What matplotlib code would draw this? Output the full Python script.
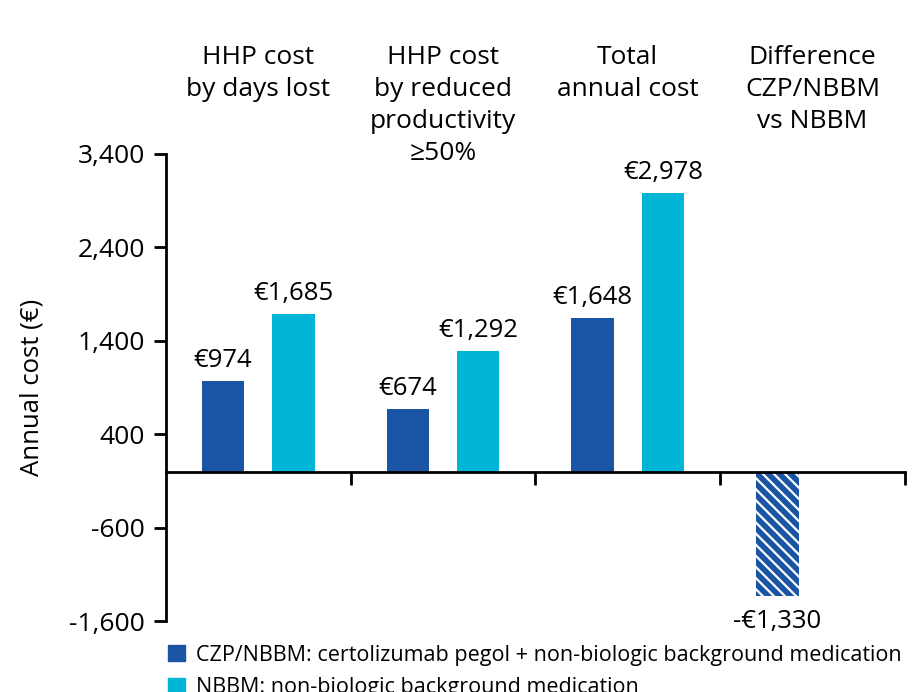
import matplotlib
matplotlib.use("Agg")
import matplotlib.pyplot as plt
from matplotlib.patches import Patch
from matplotlib import transforms

plt.rcParams['font.family'] = ['Open Sans', 'DejaVu Sans']
plt.rcParams['hatch.linewidth'] = 1.6

# donnees
categories = ["HHP cost\nby days lost",
              "HHP cost\nby reduced\nproductivity\n\u226550%",
              "Total\nannual cost",
              "Difference\nCZP/NBBM\nvs NBBM"]
czp = [974, 674, 1648]
nbbm = [1685, 1292, 2978]
difference = -1330
yticks = [-1600, -600, 400, 1400, 2400, 3400]

dark = '#1a55a5'
cyan = '#00b5d6'

fig = plt.figure(figsize=(9.16, 6.92), dpi=100)
ax = fig.add_axes([0.181, 0.1026, 0.807, 0.6749])

off = 0.19
w = 0.23
centres = [0.5, 1.5, 2.5, 3.5]
for i in range(3):
    ax.bar(centres[i] - off, czp[i], w, color=dark, zorder=2)
    ax.bar(centres[i] + off, nbbm[i], w, color=cyan, zorder=2)
    ax.text(centres[i] - off, czp[i] + 85, "\u20ac{:,}".format(czp[i]),
            ha='center', va='bottom', fontsize=18.5)
    ax.text(centres[i] + off, nbbm[i] + 85, "\u20ac{:,}".format(nbbm[i]),
            ha='center', va='bottom', fontsize=18.5)

ax.bar(centres[3] - off, difference, w, color=dark, edgecolor='white',
       linewidth=0, hatch='\\\\\\', zorder=2)
ax.text(centres[3] - off, difference - 145, "-\u20ac{:,}".format(-difference),
        ha='center', va='top', fontsize=18.5)

ax.set_xlim(0, 4)
ax.set_ylim(-1600, 3400)
ax.set_yticks(yticks)
ax.set_yticklabels(["{:,}".format(v) for v in yticks], fontsize=19)
ax.set_xticks([1, 2, 3, 4])
ax.set_xticklabels([])
ax.spines['top'].set_visible(False)
ax.spines['right'].set_visible(False)
ax.spines['bottom'].set_position(('data', 0))
ax.spines['left'].set_linewidth(2)
ax.spines['bottom'].set_linewidth(2)
ax.spines['bottom'].set_zorder(3)
ax.tick_params(axis='y', length=9, width=2, pad=6, colors='black')
ax.tick_params(axis='x', length=9, width=2, direction='out')
ax.set_ylabel("Annual cost (\u20ac)", fontsize=18.5, labelpad=18)

trans = transforms.blended_transform_factory(ax.transData, fig.transFigure)
for c, lab in zip(centres, categories):
    ax.text(c, 0.935, lab, transform=trans, ha='center', va='top',
            fontsize=19, linespacing=1.36)

handles = [Patch(color=dark, label="CZP/NBBM: certolizumab pegol + non-biologic background medication"),
           Patch(color=cyan, label="NBBM: non-biologic background medication")]
fig.legend(handles=handles, loc='upper left', bbox_to_anchor=(0.174, 0.081),
           frameon=False, fontsize=15.5, handlelength=0.8, handleheight=0.8,
           handletextpad=0.5, labelspacing=0.55, borderaxespad=0)

fig.savefig("out.png", dpi=100)
